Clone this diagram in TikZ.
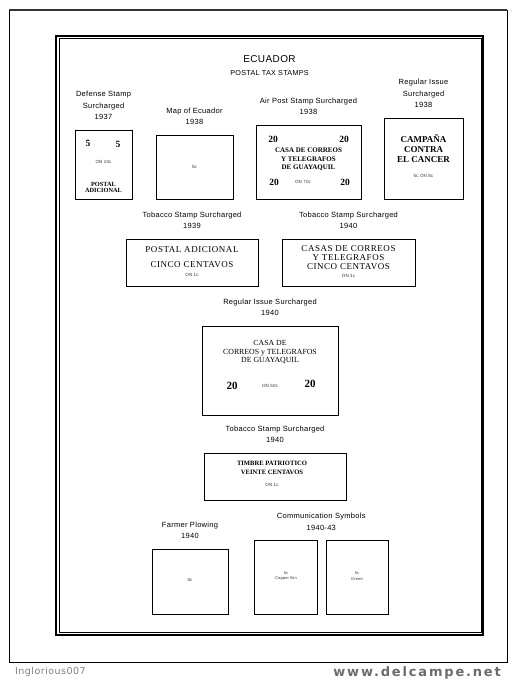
\documentclass[tikz,border=0pt]{standalone}
\usepackage{fontspec}
\setmainfont{Liberation Sans}[LetterSpace=4]
\newfontfamily\stampfont{Liberation Serif}
\newfontfamily\markfont{DejaVu Sans}[LetterSpace=14]
\newfontfamily\ownerfont{DejaVu Sans}[LetterSpace=5]
\usetikzlibrary{positioning}

\begin{document}
\begin{tikzpicture}[x=1pt,y=-1pt,
   stamp/.style={draw,line width=0.8pt,inner sep=0pt},
   caption/.style={align=center,inner sep=0pt,font=\fontsize{7.5}{11.5}\selectfont},
   tiny/.style={inner sep=0pt,text=black!80,font=\fontsize{4.5}{5}\selectfont},
   numeral/.style={inner sep=0pt,font=\stampfont\bfseries\fontsize{9.5}{10}\selectfont},
   surch/.style={inner sep=0pt,align=center,font=\stampfont\bfseries\fontsize{7}{8.5}\selectfont},
   engraved/.style={inner sep=0pt,align=center,font=\stampfont\fontsize{9}{9}\addfontfeature{LetterSpace=6}\selectfont}]
\useasboundingbox (0,0) rectangle (516,682);
\fill[white] (0,0) rectangle (516,682);

% page and album frame
\draw[line width=0.8pt] (9,10) rectangle (507,662);
\draw[line width=1.8pt,black!80] (9,10) -- (507,10);
\draw[line width=2pt] (56,36) rectangle (483,635);
\draw[line width=0.7pt] (59.3,38.5) rectangle (481,632.5);

% heading
\node[inner sep=0pt,font=\fontsize{10}{12}\selectfont] (country) at (269.5,59) {ECUADOR};
\node[inner sep=0pt,font=\fontsize{7.2}{9}\selectfont] (series) at (269.5,73.5) {POSTAL TAX STAMPS};

% row 1
\node[stamp,minimum width=57pt,minimum height=69pt] (defense) at (103.5,164.5) {};
\node[caption,above=9.5pt of defense] {Defense Stamp\\Surcharged\\1937};
\node[numeral] at (88,143) {5};
\node[numeral] at (118,144) {5};
\node[tiny] at (103.5,162) {ON 10c};
\node[surch,font=\stampfont\bfseries\fontsize{6.3}{6.5}\selectfont] at (103.5,187.5) {POSTAL\\ADICIONAL};

\node[stamp,minimum width=77pt,minimum height=64pt] (map) at (194.5,167) {};
\node[caption,above=9.5pt of map] {Map of Ecuador\\1938};
\node[tiny] at (map) {5c};

\node[stamp,minimum width=105pt,minimum height=74pt] (airpost) at (308.5,162) {};
\node[caption,above=9.5pt of airpost] {Air Post Stamp Surcharged\\1938};
\node[numeral] at (273,139) {20};
\node[numeral] at (344,139) {20};
\node[surch] at (308.5,159.5) {CASA DE CORREOS\\Y TELEGRAFOS\\DE GUAYAQUIL};
\node[numeral] at (274,182) {20};
\node[tiny] at (303,182) {ON 70c};
\node[numeral] at (345,182) {20};

\node[stamp,minimum width=79pt,minimum height=81pt] (regular) at (423.5,158.5) {};
\node[caption,above=9.5pt of regular] {Regular Issue\\Surcharged\\1938};
\node[surch,font=\stampfont\bfseries\fontsize{9}{10}\selectfont] at (423.5,149) {CAMPAÑA\\CONTRA\\EL CANCER};
\node[tiny] at (423.5,176) {5c ON 8c};

% row 2
\node[stamp,minimum width=132pt,minimum height=47pt] (tobacco) at (192,262.5) {};
\node[caption,above=9.5pt of tobacco] {Tobacco Stamp Surcharged\\1939};
\node[engraved,font=\stampfont\fontsize{9}{15}\addfontfeature{LetterSpace=6}\selectfont] at (192,257.5) {POSTAL ADICIONAL\\CINCO CENTAVOS};
\node[tiny] at (192,275) {ON 1c};

\node[stamp,minimum width=133pt,minimum height=47pt] (casas) at (348.5,262.5) {};
\node[caption,above=9.5pt of casas] {Tobacco Stamp Surcharged\\1940};
\node[engraved] at (348.5,258) {CASAS DE CORREOS\\Y TELEGRAFOS\\CINCO CENTAVOS};
\node[tiny] at (348.5,276) {ON 1c};

% row 3
\node[stamp,minimum width=136pt,minimum height=89pt] (guayaquil) at (270,370.5) {};
\node[caption,above=9.5pt of guayaquil] {Regular Issue Surcharged\\1940};
\node[surch,font=\stampfont\fontsize{7.8}{8.5}\selectfont] at (270,352.5) {CASA DE\\CORREOS y TELEGRAFOS\\DE GUAYAQUIL};
\node[numeral,font=\stampfont\bfseries\fontsize{11}{12}\selectfont] at (232,385.5) {20};
\node[tiny] at (270,386) {ON 50c};
\node[numeral,font=\stampfont\bfseries\fontsize{11}{12}\selectfont] at (310,383.5) {20};

% row 4
\node[stamp,minimum width=142pt,minimum height=47pt] (timbre) at (275,476.5) {};
\node[caption,above=9.5pt of timbre] {Tobacco Stamp Surcharged\\1940};
\node[surch,font=\stampfont\bfseries\fontsize{6.6}{9}\selectfont] at (272,467.5) {TIMBRE PATRIOTICO\\VEINTE CENTAVOS};
\node[tiny] at (272,485) {ON 1c};

% row 5
\node[stamp,minimum width=76pt,minimum height=65pt] (farmer) at (190,581.5) {};
\node[caption,above=9.5pt of farmer] {Farmer Plowing\\1940};
\node[tiny] at (190,580) {5c};

\node[stamp,minimum width=63pt,minimum height=74pt] (copper) at (285.5,577) {};
\node[stamp,minimum width=62pt,minimum height=74pt] (green) at (357,577) {};
\coordinate (commtop) at (321.25,540);
\node[caption,above=9.5pt of commtop] {Communication Symbols\\1940-43};
\node[tiny,align=center,font=\fontsize{4}{5.5}\selectfont] at (286,576) {5c\\Copper Brn};
\node[tiny,align=center,font=\fontsize{4}{5.5}\selectfont] at (357,576) {5c\\Green};

% footer
\node[anchor=west,inner sep=0pt,text=black!50,font=\ownerfont\fontsize{9.5}{11}\selectfont] (owner) at (15,671.5) {Inglorious007};
\node[anchor=east,inner sep=0pt,text=black!58,font=\markfont\bfseries\fontsize{13}{15}\selectfont] (site) at (501,673) {www.delcampe.net};
\end{tikzpicture}
\end{document}
